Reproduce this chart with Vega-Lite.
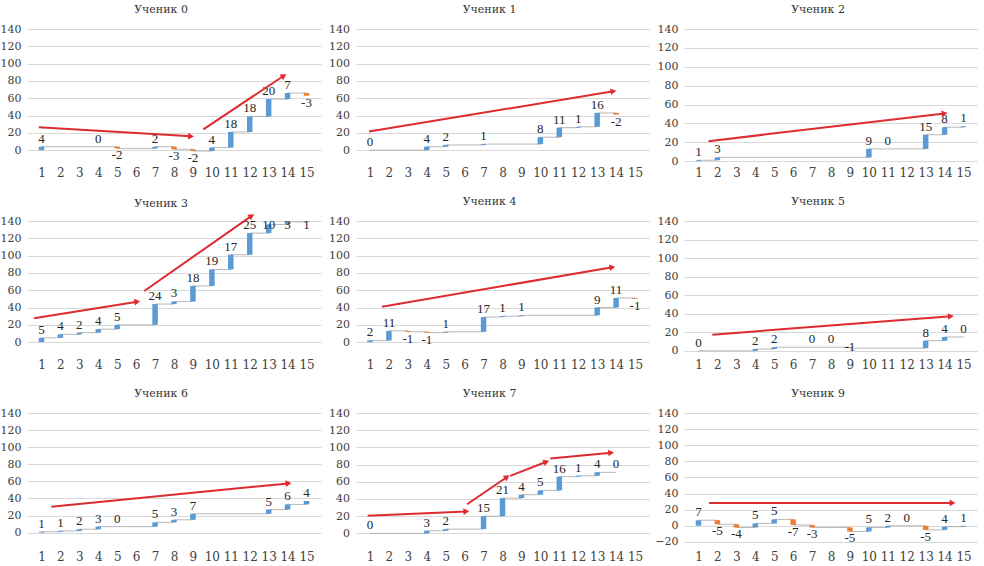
{
"$schema": "https://vega.github.io/schema/vega-lite/v6.json",
"background": "white",
"padding": {"left": 0, "top": 4, "right": 0, "bottom": 0},
"datasets": {
"steps": [
{"s":0,"step":1,"delta":4,"start":0,"end":4},
{"s":0,"step":4,"delta":0,"start":4,"end":4},
{"s":0,"step":5,"delta":-2,"start":4,"end":2},
{"s":0,"step":7,"delta":2,"start":2,"end":4},
{"s":0,"step":8,"delta":-3,"start":4,"end":1},
{"s":0,"step":9,"delta":-2,"start":1,"end":-1},
{"s":0,"step":10,"delta":4,"start":-1,"end":3},
{"s":0,"step":11,"delta":18,"start":3,"end":21},
{"s":0,"step":12,"delta":18,"start":21,"end":39},
{"s":0,"step":13,"delta":20,"start":39,"end":59},
{"s":0,"step":14,"delta":7,"start":59,"end":66},
{"s":0,"step":15,"delta":-3,"start":66,"end":63},
{"s":1,"step":1,"delta":0,"start":0,"end":0},
{"s":1,"step":4,"delta":4,"start":0,"end":4},
{"s":1,"step":5,"delta":2,"start":4,"end":6},
{"s":1,"step":7,"delta":1,"start":6,"end":7},
{"s":1,"step":10,"delta":8,"start":7,"end":15},
{"s":1,"step":11,"delta":11,"start":15,"end":26},
{"s":1,"step":12,"delta":1,"start":26,"end":27},
{"s":1,"step":13,"delta":16,"start":27,"end":43},
{"s":1,"step":14,"delta":-2,"start":43,"end":41},
{"s":2,"step":1,"delta":1,"start":0,"end":1},
{"s":2,"step":2,"delta":3,"start":1,"end":4},
{"s":2,"step":10,"delta":9,"start":4,"end":13},
{"s":2,"step":11,"delta":0,"start":13,"end":13},
{"s":2,"step":13,"delta":15,"start":13,"end":28},
{"s":2,"step":14,"delta":8,"start":28,"end":36},
{"s":2,"step":15,"delta":1,"start":36,"end":37},
{"s":3,"step":1,"delta":5,"start":0,"end":5},
{"s":3,"step":2,"delta":4,"start":5,"end":9},
{"s":3,"step":3,"delta":2,"start":9,"end":11},
{"s":3,"step":4,"delta":4,"start":11,"end":15},
{"s":3,"step":5,"delta":5,"start":15,"end":20},
{"s":3,"step":7,"delta":24,"start":20,"end":44},
{"s":3,"step":8,"delta":3,"start":44,"end":47},
{"s":3,"step":9,"delta":18,"start":47,"end":65},
{"s":3,"step":10,"delta":19,"start":65,"end":84},
{"s":3,"step":11,"delta":17,"start":84,"end":101},
{"s":3,"step":12,"delta":25,"start":101,"end":126},
{"s":3,"step":13,"delta":10,"start":126,"end":136},
{"s":3,"step":14,"delta":3,"start":136,"end":139},
{"s":3,"step":15,"delta":1,"start":139,"end":140},
{"s":4,"step":1,"delta":2,"start":0,"end":2},
{"s":4,"step":2,"delta":11,"start":2,"end":13},
{"s":4,"step":3,"delta":-1,"start":13,"end":12},
{"s":4,"step":4,"delta":-1,"start":12,"end":11},
{"s":4,"step":5,"delta":1,"start":11,"end":12},
{"s":4,"step":7,"delta":17,"start":12,"end":29},
{"s":4,"step":8,"delta":1,"start":29,"end":30},
{"s":4,"step":9,"delta":1,"start":30,"end":31},
{"s":4,"step":13,"delta":9,"start":31,"end":40},
{"s":4,"step":14,"delta":11,"start":40,"end":51},
{"s":4,"step":15,"delta":-1,"start":51,"end":50},
{"s":5,"step":1,"delta":0,"start":0,"end":0},
{"s":5,"step":4,"delta":2,"start":0,"end":2},
{"s":5,"step":5,"delta":2,"start":2,"end":4},
{"s":5,"step":7,"delta":0,"start":4,"end":4},
{"s":5,"step":8,"delta":0,"start":4,"end":4},
{"s":5,"step":9,"delta":-1,"start":4,"end":3},
{"s":5,"step":13,"delta":8,"start":3,"end":11},
{"s":5,"step":14,"delta":4,"start":11,"end":15},
{"s":5,"step":15,"delta":0,"start":15,"end":15},
{"s":6,"step":1,"delta":1,"start":0,"end":1},
{"s":6,"step":2,"delta":1,"start":1,"end":2},
{"s":6,"step":3,"delta":2,"start":2,"end":4},
{"s":6,"step":4,"delta":3,"start":4,"end":7},
{"s":6,"step":5,"delta":0,"start":7,"end":7},
{"s":6,"step":7,"delta":5,"start":7,"end":12},
{"s":6,"step":8,"delta":3,"start":12,"end":15},
{"s":6,"step":9,"delta":7,"start":15,"end":22},
{"s":6,"step":13,"delta":5,"start":22,"end":27},
{"s":6,"step":14,"delta":6,"start":27,"end":33},
{"s":6,"step":15,"delta":4,"start":33,"end":37},
{"s":7,"step":1,"delta":0,"start":0,"end":0},
{"s":7,"step":4,"delta":3,"start":0,"end":3},
{"s":7,"step":5,"delta":2,"start":3,"end":5},
{"s":7,"step":7,"delta":15,"start":5,"end":20},
{"s":7,"step":8,"delta":21,"start":20,"end":41},
{"s":7,"step":9,"delta":4,"start":41,"end":45},
{"s":7,"step":10,"delta":5,"start":45,"end":50},
{"s":7,"step":11,"delta":16,"start":50,"end":66},
{"s":7,"step":12,"delta":1,"start":66,"end":67},
{"s":7,"step":13,"delta":4,"start":67,"end":71},
{"s":7,"step":14,"delta":0,"start":71,"end":71},
{"s":9,"step":1,"delta":7,"start":0,"end":7},
{"s":9,"step":2,"delta":-5,"start":7,"end":2},
{"s":9,"step":3,"delta":-4,"start":2,"end":-2},
{"s":9,"step":4,"delta":5,"start":-2,"end":3},
{"s":9,"step":5,"delta":5,"start":3,"end":8},
{"s":9,"step":6,"delta":-7,"start":8,"end":1},
{"s":9,"step":7,"delta":-3,"start":1,"end":-2},
{"s":9,"step":9,"delta":-5,"start":-2,"end":-7},
{"s":9,"step":10,"delta":5,"start":-7,"end":-2},
{"s":9,"step":11,"delta":2,"start":-2,"end":0},
{"s":9,"step":12,"delta":0,"start":0,"end":0},
{"s":9,"step":13,"delta":-5,"start":0,"end":-5},
{"s":9,"step":14,"delta":4,"start":-5,"end":-1},
{"s":9,"step":15,"delta":1,"start":-1,"end":0}
],
"arrows": [
{"s":0,"x0":0.86,"y0":26.4,"x1":8.9,"y1":16,"angle":3.3},
{"s":0,"x0":9.55,"y0":24,"x1":13.8,"y1":86,"angle":-33},
{"s":1,"x0":0.95,"y0":21.5,"x1":13.86,"y1":68,"angle":-9.1},
{"s":2,"x0":1.53,"y0":21.2,"x1":14.0,"y1":50.6,"angle":-6.5},
{"s":3,"x0":0.61,"y0":27.6,"x1":6.06,"y1":46.7,"angle":-8.8},
{"s":3,"x0":6.43,"y0":59.1,"x1":12.1,"y1":146,"angle":-34.3},
{"s":4,"x0":1.63,"y0":41,"x1":13.8,"y1":86.5,"angle":-9.4},
{"s":5,"x0":1.73,"y0":17.5,"x1":14.33,"y1":37.3,"angle":-4.3},
{"s":6,"x0":1.52,"y0":30.2,"x1":14.05,"y1":57.6,"angle":-5.6},
{"s":7,"x0":0.88,"y0":20.5,"x1":6.09,"y1":25.5,"angle":-2.4},
{"s":7,"x0":6.13,"y0":33.9,"x1":8.24,"y1":65.6,"angle":-33.7},
{"s":7,"x0":8.41,"y0":66.8,"x1":10.32,"y1":83.3,"angle":-21},
{"s":7,"x0":10.52,"y0":87.2,"x1":13.74,"y1":93.75,"angle":-5.2},
{"s":9,"x0":1.56,"y0":28.4,"x1":14.42,"y1":28.4,"angle":0}
]
},
"columns": 3,
"bounds": "flush",
"spacing": {"row": 57, "column": 34.5},
"concat": [
{"title":"Ученик 0","width":294,"height":135,"layer":[
{"data":{"name":"steps"},"transform":[{"filter":"datum.s===0"}],"mark":{"type":"line","interpolate":"step-after","color":"#A6A6A6","strokeWidth":0.8},"encoding":{"x":{"field":"step","type":"quantitative","scale":{"domain":[0.5,15.5],"nice":false},"axis":{"values":[1,2,3,4,5,6,7,8,9,10,11,12,13,14,15],"tickCount":30,"format":"d","title":null,"labelOverlap":false}},"y":{"field":"end","type":"quantitative","scale":{"domain":[-16,140],"nice":false},"axis":{"values":[0,20,40,60,80,100,120,140],"tickCount":30,"format":"d","title":null,"labelOverlap":false}}}},
{"data":{"name":"steps"},"transform":[{"filter":"datum.s===0"}],"mark":{"type":"bar","size":5.5},"encoding":{"x":{"field":"step","type":"quantitative"},"y":{"field":"start","type":"quantitative"},"y2":{"field":"end"},"color":{"condition":{"test":"datum.delta<0","value":"#ED7D31"},"value":"#5B9BD5"}}},
{"data":{"name":"steps"},"transform":[{"filter":"datum.s===0 && datum.delta>=0"},{"calculate":"min(datum.end,126)","as":"labelAt"}],"mark":{"type":"text","baseline":"bottom","dy":-1,"font":"Liberation Serif","fontSize":13,"color":"#262626"},"encoding":{"x":{"field":"step","type":"quantitative"},"y":{"field":"labelAt","type":"quantitative"},"text":{"field":"delta","type":"nominal"}}},
{"data":{"name":"steps"},"transform":[{"filter":"datum.s===0 && datum.delta<0"}],"mark":{"type":"text","baseline":"top","dy":1,"font":"Liberation Serif","fontSize":13,"color":"#262626"},"encoding":{"x":{"field":"step","type":"quantitative"},"y":{"field":"end","type":"quantitative"},"text":{"field":"delta","type":"nominal"}}},
{"data":{"name":"arrows"},"transform":[{"filter":"datum.s===0"}],"mark":{"type":"rule","color":"#DE2B2F","strokeWidth":2},"encoding":{"x":{"field":"x0","type":"quantitative"},"y":{"field":"y0","type":"quantitative"},"x2":{"field":"x1"},"y2":{"field":"y1"}}},
{"data":{"name":"arrows"},"transform":[{"filter":"datum.s===0"}],"mark":{"type":"point","shape":"triangle-right","filled":true,"size":45,"color":"#DE2B2F","opacity":1},"encoding":{"x":{"field":"x1","type":"quantitative"},"y":{"field":"y1","type":"quantitative"},"angle":{"field":"angle","type":"quantitative","scale":null}}}
]},
{"title":"Ученик 1","width":294,"height":135,"layer":[
{"data":{"name":"steps"},"transform":[{"filter":"datum.s===1"}],"mark":{"type":"line","interpolate":"step-after","color":"#A6A6A6","strokeWidth":0.8},"encoding":{"x":{"field":"step","type":"quantitative","scale":{"domain":[0.5,15.5],"nice":false},"axis":{"values":[1,2,3,4,5,6,7,8,9,10,11,12,13,14,15],"tickCount":30,"format":"d","title":null,"labelOverlap":false}},"y":{"field":"end","type":"quantitative","scale":{"domain":[-16,140],"nice":false},"axis":{"values":[0,20,40,60,80,100,120,140],"tickCount":30,"format":"d","title":null,"labelOverlap":false}}}},
{"data":{"name":"steps"},"transform":[{"filter":"datum.s===1"}],"mark":{"type":"bar","size":5.5},"encoding":{"x":{"field":"step","type":"quantitative"},"y":{"field":"start","type":"quantitative"},"y2":{"field":"end"},"color":{"condition":{"test":"datum.delta<0","value":"#ED7D31"},"value":"#5B9BD5"}}},
{"data":{"name":"steps"},"transform":[{"filter":"datum.s===1 && datum.delta>=0"},{"calculate":"min(datum.end,126)","as":"labelAt"}],"mark":{"type":"text","baseline":"bottom","dy":-1,"font":"Liberation Serif","fontSize":13,"color":"#262626"},"encoding":{"x":{"field":"step","type":"quantitative"},"y":{"field":"labelAt","type":"quantitative"},"text":{"field":"delta","type":"nominal"}}},
{"data":{"name":"steps"},"transform":[{"filter":"datum.s===1 && datum.delta<0"}],"mark":{"type":"text","baseline":"top","dy":1,"font":"Liberation Serif","fontSize":13,"color":"#262626"},"encoding":{"x":{"field":"step","type":"quantitative"},"y":{"field":"end","type":"quantitative"},"text":{"field":"delta","type":"nominal"}}},
{"data":{"name":"arrows"},"transform":[{"filter":"datum.s===1"}],"mark":{"type":"rule","color":"#DE2B2F","strokeWidth":2},"encoding":{"x":{"field":"x0","type":"quantitative"},"y":{"field":"y0","type":"quantitative"},"x2":{"field":"x1"},"y2":{"field":"y1"}}},
{"data":{"name":"arrows"},"transform":[{"filter":"datum.s===1"}],"mark":{"type":"point","shape":"triangle-right","filled":true,"size":45,"color":"#DE2B2F","opacity":1},"encoding":{"x":{"field":"x1","type":"quantitative"},"y":{"field":"y1","type":"quantitative"},"angle":{"field":"angle","type":"quantitative","scale":null}}}
]},
{"title":"Ученик 2","width":294,"height":135,"layer":[
{"data":{"name":"steps"},"transform":[{"filter":"datum.s===2"}],"mark":{"type":"line","interpolate":"step-after","color":"#A6A6A6","strokeWidth":0.8},"encoding":{"x":{"field":"step","type":"quantitative","scale":{"domain":[0.5,15.5],"nice":false},"axis":{"values":[1,2,3,4,5,6,7,8,9,10,11,12,13,14,15],"tickCount":30,"format":"d","title":null,"labelOverlap":false}},"y":{"field":"end","type":"quantitative","scale":{"domain":[-3,140],"nice":false},"axis":{"values":[0,20,40,60,80,100,120,140],"tickCount":30,"format":"d","title":null,"labelOverlap":false}}}},
{"data":{"name":"steps"},"transform":[{"filter":"datum.s===2"}],"mark":{"type":"bar","size":5.5},"encoding":{"x":{"field":"step","type":"quantitative"},"y":{"field":"start","type":"quantitative"},"y2":{"field":"end"},"color":{"condition":{"test":"datum.delta<0","value":"#ED7D31"},"value":"#5B9BD5"}}},
{"data":{"name":"steps"},"transform":[{"filter":"datum.s===2 && datum.delta>=0"},{"calculate":"min(datum.end,126)","as":"labelAt"}],"mark":{"type":"text","baseline":"bottom","dy":-1,"font":"Liberation Serif","fontSize":13,"color":"#262626"},"encoding":{"x":{"field":"step","type":"quantitative"},"y":{"field":"labelAt","type":"quantitative"},"text":{"field":"delta","type":"nominal"}}},
{"data":{"name":"steps"},"transform":[{"filter":"datum.s===2 && datum.delta<0"}],"mark":{"type":"text","baseline":"top","dy":1,"font":"Liberation Serif","fontSize":13,"color":"#262626"},"encoding":{"x":{"field":"step","type":"quantitative"},"y":{"field":"end","type":"quantitative"},"text":{"field":"delta","type":"nominal"}}},
{"data":{"name":"arrows"},"transform":[{"filter":"datum.s===2"}],"mark":{"type":"rule","color":"#DE2B2F","strokeWidth":2},"encoding":{"x":{"field":"x0","type":"quantitative"},"y":{"field":"y0","type":"quantitative"},"x2":{"field":"x1"},"y2":{"field":"y1"}}},
{"data":{"name":"arrows"},"transform":[{"filter":"datum.s===2"}],"mark":{"type":"point","shape":"triangle-right","filled":true,"size":45,"color":"#DE2B2F","opacity":1},"encoding":{"x":{"field":"x1","type":"quantitative"},"y":{"field":"y1","type":"quantitative"},"angle":{"field":"angle","type":"quantitative","scale":null}}}
]},
{"title":{"text":"Ученик 3","dy":3},"width":294,"height":135,"layer":[
{"data":{"name":"steps"},"transform":[{"filter":"datum.s===3"}],"mark":{"type":"line","interpolate":"step-after","color":"#A6A6A6","strokeWidth":0.8},"encoding":{"x":{"field":"step","type":"quantitative","scale":{"domain":[0.5,15.5],"nice":false},"axis":{"values":[1,2,3,4,5,6,7,8,9,10,11,12,13,14,15],"tickCount":30,"format":"d","title":null,"labelOverlap":false}},"y":{"field":"end","type":"quantitative","scale":{"domain":[-16,140],"nice":false},"axis":{"values":[0,20,40,60,80,100,120,140],"tickCount":30,"format":"d","title":null,"labelOverlap":false}}}},
{"data":{"name":"steps"},"transform":[{"filter":"datum.s===3"}],"mark":{"type":"bar","size":5.5},"encoding":{"x":{"field":"step","type":"quantitative"},"y":{"field":"start","type":"quantitative"},"y2":{"field":"end"},"color":{"condition":{"test":"datum.delta<0","value":"#ED7D31"},"value":"#5B9BD5"}}},
{"data":{"name":"steps"},"transform":[{"filter":"datum.s===3 && datum.delta>=0"},{"calculate":"min(datum.end,126)","as":"labelAt"}],"mark":{"type":"text","baseline":"bottom","dy":-1,"font":"Liberation Serif","fontSize":13,"color":"#262626"},"encoding":{"x":{"field":"step","type":"quantitative"},"y":{"field":"labelAt","type":"quantitative"},"text":{"field":"delta","type":"nominal"}}},
{"data":{"name":"steps"},"transform":[{"filter":"datum.s===3 && datum.delta<0"}],"mark":{"type":"text","baseline":"top","dy":1,"font":"Liberation Serif","fontSize":13,"color":"#262626"},"encoding":{"x":{"field":"step","type":"quantitative"},"y":{"field":"end","type":"quantitative"},"text":{"field":"delta","type":"nominal"}}},
{"data":{"name":"arrows"},"transform":[{"filter":"datum.s===3"}],"mark":{"type":"rule","color":"#DE2B2F","strokeWidth":2},"encoding":{"x":{"field":"x0","type":"quantitative"},"y":{"field":"y0","type":"quantitative"},"x2":{"field":"x1"},"y2":{"field":"y1"}}},
{"data":{"name":"arrows"},"transform":[{"filter":"datum.s===3"}],"mark":{"type":"point","shape":"triangle-right","filled":true,"size":45,"color":"#DE2B2F","opacity":1},"encoding":{"x":{"field":"x1","type":"quantitative"},"y":{"field":"y1","type":"quantitative"},"angle":{"field":"angle","type":"quantitative","scale":null}}}
]},
{"title":"Ученик 4","width":294,"height":135,"layer":[
{"data":{"name":"steps"},"transform":[{"filter":"datum.s===4"}],"mark":{"type":"line","interpolate":"step-after","color":"#A6A6A6","strokeWidth":0.8},"encoding":{"x":{"field":"step","type":"quantitative","scale":{"domain":[0.5,15.5],"nice":false},"axis":{"values":[1,2,3,4,5,6,7,8,9,10,11,12,13,14,15],"tickCount":30,"format":"d","title":null,"labelOverlap":false}},"y":{"field":"end","type":"quantitative","scale":{"domain":[-16,140],"nice":false},"axis":{"values":[0,20,40,60,80,100,120,140],"tickCount":30,"format":"d","title":null,"labelOverlap":false}}}},
{"data":{"name":"steps"},"transform":[{"filter":"datum.s===4"}],"mark":{"type":"bar","size":5.5},"encoding":{"x":{"field":"step","type":"quantitative"},"y":{"field":"start","type":"quantitative"},"y2":{"field":"end"},"color":{"condition":{"test":"datum.delta<0","value":"#ED7D31"},"value":"#5B9BD5"}}},
{"data":{"name":"steps"},"transform":[{"filter":"datum.s===4 && datum.delta>=0"},{"calculate":"min(datum.end,126)","as":"labelAt"}],"mark":{"type":"text","baseline":"bottom","dy":-1,"font":"Liberation Serif","fontSize":13,"color":"#262626"},"encoding":{"x":{"field":"step","type":"quantitative"},"y":{"field":"labelAt","type":"quantitative"},"text":{"field":"delta","type":"nominal"}}},
{"data":{"name":"steps"},"transform":[{"filter":"datum.s===4 && datum.delta<0"}],"mark":{"type":"text","baseline":"top","dy":1,"font":"Liberation Serif","fontSize":13,"color":"#262626"},"encoding":{"x":{"field":"step","type":"quantitative"},"y":{"field":"end","type":"quantitative"},"text":{"field":"delta","type":"nominal"}}},
{"data":{"name":"arrows"},"transform":[{"filter":"datum.s===4"}],"mark":{"type":"rule","color":"#DE2B2F","strokeWidth":2},"encoding":{"x":{"field":"x0","type":"quantitative"},"y":{"field":"y0","type":"quantitative"},"x2":{"field":"x1"},"y2":{"field":"y1"}}},
{"data":{"name":"arrows"},"transform":[{"filter":"datum.s===4"}],"mark":{"type":"point","shape":"triangle-right","filled":true,"size":45,"color":"#DE2B2F","opacity":1},"encoding":{"x":{"field":"x1","type":"quantitative"},"y":{"field":"y1","type":"quantitative"},"angle":{"field":"angle","type":"quantitative","scale":null}}}
]},
{"title":"Ученик 5","width":294,"height":135,"layer":[
{"data":{"name":"steps"},"transform":[{"filter":"datum.s===5"}],"mark":{"type":"line","interpolate":"step-after","color":"#A6A6A6","strokeWidth":0.8},"encoding":{"x":{"field":"step","type":"quantitative","scale":{"domain":[0.5,15.5],"nice":false},"axis":{"values":[1,2,3,4,5,6,7,8,9,10,11,12,13,14,15],"tickCount":30,"format":"d","title":null,"labelOverlap":false}},"y":{"field":"end","type":"quantitative","scale":{"domain":[-5.5,140],"nice":false},"axis":{"values":[0,20,40,60,80,100,120,140],"tickCount":30,"format":"d","title":null,"labelOverlap":false}}}},
{"data":{"name":"steps"},"transform":[{"filter":"datum.s===5"}],"mark":{"type":"bar","size":5.5},"encoding":{"x":{"field":"step","type":"quantitative"},"y":{"field":"start","type":"quantitative"},"y2":{"field":"end"},"color":{"condition":{"test":"datum.delta<0","value":"#ED7D31"},"value":"#5B9BD5"}}},
{"data":{"name":"steps"},"transform":[{"filter":"datum.s===5 && datum.delta>=0"},{"calculate":"min(datum.end,126)","as":"labelAt"}],"mark":{"type":"text","baseline":"bottom","dy":-1,"font":"Liberation Serif","fontSize":13,"color":"#262626"},"encoding":{"x":{"field":"step","type":"quantitative"},"y":{"field":"labelAt","type":"quantitative"},"text":{"field":"delta","type":"nominal"}}},
{"data":{"name":"steps"},"transform":[{"filter":"datum.s===5 && datum.delta<0"}],"mark":{"type":"text","baseline":"middle","dy":-1,"font":"Liberation Serif","fontSize":13,"color":"#262626"},"encoding":{"x":{"field":"step","type":"quantitative"},"y":{"field":"end","type":"quantitative"},"text":{"field":"delta","type":"nominal"}}},
{"data":{"name":"arrows"},"transform":[{"filter":"datum.s===5"}],"mark":{"type":"rule","color":"#DE2B2F","strokeWidth":2},"encoding":{"x":{"field":"x0","type":"quantitative"},"y":{"field":"y0","type":"quantitative"},"x2":{"field":"x1"},"y2":{"field":"y1"}}},
{"data":{"name":"arrows"},"transform":[{"filter":"datum.s===5"}],"mark":{"type":"point","shape":"triangle-right","filled":true,"size":45,"color":"#DE2B2F","opacity":1},"encoding":{"x":{"field":"x1","type":"quantitative"},"y":{"field":"y1","type":"quantitative"},"angle":{"field":"angle","type":"quantitative","scale":null}}}
]},
{"title":"Ученик 6","width":294,"height":135,"layer":[
{"data":{"name":"steps"},"transform":[{"filter":"datum.s===6"}],"mark":{"type":"line","interpolate":"step-after","color":"#A6A6A6","strokeWidth":0.8},"encoding":{"x":{"field":"step","type":"quantitative","scale":{"domain":[0.5,15.5],"nice":false},"axis":{"values":[1,2,3,4,5,6,7,8,9,10,11,12,13,14,15],"tickCount":30,"format":"d","title":null,"labelOverlap":false}},"y":{"field":"end","type":"quantitative","scale":{"domain":[-18,140],"nice":false},"axis":{"values":[0,20,40,60,80,100,120,140],"tickCount":30,"format":"d","title":null,"labelOverlap":false}}}},
{"data":{"name":"steps"},"transform":[{"filter":"datum.s===6"}],"mark":{"type":"bar","size":5.5},"encoding":{"x":{"field":"step","type":"quantitative"},"y":{"field":"start","type":"quantitative"},"y2":{"field":"end"},"color":{"condition":{"test":"datum.delta<0","value":"#ED7D31"},"value":"#5B9BD5"}}},
{"data":{"name":"steps"},"transform":[{"filter":"datum.s===6 && datum.delta>=0"},{"calculate":"min(datum.end,126)","as":"labelAt"}],"mark":{"type":"text","baseline":"bottom","dy":-1,"font":"Liberation Serif","fontSize":13,"color":"#262626"},"encoding":{"x":{"field":"step","type":"quantitative"},"y":{"field":"labelAt","type":"quantitative"},"text":{"field":"delta","type":"nominal"}}},
{"data":{"name":"steps"},"transform":[{"filter":"datum.s===6 && datum.delta<0"}],"mark":{"type":"text","baseline":"top","dy":1,"font":"Liberation Serif","fontSize":13,"color":"#262626"},"encoding":{"x":{"field":"step","type":"quantitative"},"y":{"field":"end","type":"quantitative"},"text":{"field":"delta","type":"nominal"}}},
{"data":{"name":"arrows"},"transform":[{"filter":"datum.s===6"}],"mark":{"type":"rule","color":"#DE2B2F","strokeWidth":2},"encoding":{"x":{"field":"x0","type":"quantitative"},"y":{"field":"y0","type":"quantitative"},"x2":{"field":"x1"},"y2":{"field":"y1"}}},
{"data":{"name":"arrows"},"transform":[{"filter":"datum.s===6"}],"mark":{"type":"point","shape":"triangle-right","filled":true,"size":45,"color":"#DE2B2F","opacity":1},"encoding":{"x":{"field":"x1","type":"quantitative"},"y":{"field":"y1","type":"quantitative"},"angle":{"field":"angle","type":"quantitative","scale":null}}}
]},
{"title":"Ученик 7","width":294,"height":135,"layer":[
{"data":{"name":"steps"},"transform":[{"filter":"datum.s===7"}],"mark":{"type":"line","interpolate":"step-after","color":"#A6A6A6","strokeWidth":0.8},"encoding":{"x":{"field":"step","type":"quantitative","scale":{"domain":[0.5,15.5],"nice":false},"axis":{"values":[1,2,3,4,5,6,7,8,9,10,11,12,13,14,15],"tickCount":30,"format":"d","title":null,"labelOverlap":false}},"y":{"field":"end","type":"quantitative","scale":{"domain":[-17,140],"nice":false},"axis":{"values":[0,20,40,60,80,100,120,140],"tickCount":30,"format":"d","title":null,"labelOverlap":false}}}},
{"data":{"name":"steps"},"transform":[{"filter":"datum.s===7"}],"mark":{"type":"bar","size":5.5},"encoding":{"x":{"field":"step","type":"quantitative"},"y":{"field":"start","type":"quantitative"},"y2":{"field":"end"},"color":{"condition":{"test":"datum.delta<0","value":"#ED7D31"},"value":"#5B9BD5"}}},
{"data":{"name":"steps"},"transform":[{"filter":"datum.s===7 && datum.delta>=0"},{"calculate":"min(datum.end,126)","as":"labelAt"}],"mark":{"type":"text","baseline":"bottom","dy":-1,"font":"Liberation Serif","fontSize":13,"color":"#262626"},"encoding":{"x":{"field":"step","type":"quantitative"},"y":{"field":"labelAt","type":"quantitative"},"text":{"field":"delta","type":"nominal"}}},
{"data":{"name":"steps"},"transform":[{"filter":"datum.s===7 && datum.delta<0"}],"mark":{"type":"text","baseline":"top","dy":1,"font":"Liberation Serif","fontSize":13,"color":"#262626"},"encoding":{"x":{"field":"step","type":"quantitative"},"y":{"field":"end","type":"quantitative"},"text":{"field":"delta","type":"nominal"}}},
{"data":{"name":"arrows"},"transform":[{"filter":"datum.s===7"}],"mark":{"type":"rule","color":"#DE2B2F","strokeWidth":2},"encoding":{"x":{"field":"x0","type":"quantitative"},"y":{"field":"y0","type":"quantitative"},"x2":{"field":"x1"},"y2":{"field":"y1"}}},
{"data":{"name":"arrows"},"transform":[{"filter":"datum.s===7"}],"mark":{"type":"point","shape":"triangle-right","filled":true,"size":45,"color":"#DE2B2F","opacity":1},"encoding":{"x":{"field":"x1","type":"quantitative"},"y":{"field":"y1","type":"quantitative"},"angle":{"field":"angle","type":"quantitative","scale":null}}}
]},
{"title":"Ученик 9","width":294,"height":135,"layer":[
{"data":{"name":"steps"},"transform":[{"filter":"datum.s===9"}],"mark":{"type":"line","interpolate":"step-after","color":"#A6A6A6","strokeWidth":0.8},"encoding":{"x":{"field":"step","type":"quantitative","scale":{"domain":[0.5,15.5],"nice":false},"axis":{"values":[1,2,3,4,5,6,7,8,9,10,11,12,13,14,15],"tickCount":30,"format":"d","title":null,"labelOverlap":false}},"y":{"field":"end","type":"quantitative","scale":{"domain":[-27.5,140],"nice":false},"axis":{"values":[-20,0,20,40,60,80,100,120,140],"tickCount":30,"format":"d","title":null,"labelOverlap":false}}}},
{"data":{"name":"steps"},"transform":[{"filter":"datum.s===9"}],"mark":{"type":"bar","size":5.5},"encoding":{"x":{"field":"step","type":"quantitative"},"y":{"field":"start","type":"quantitative"},"y2":{"field":"end"},"color":{"condition":{"test":"datum.delta<0","value":"#ED7D31"},"value":"#5B9BD5"}}},
{"data":{"name":"steps"},"transform":[{"filter":"datum.s===9 && datum.delta>=0"},{"calculate":"min(datum.end,126)","as":"labelAt"}],"mark":{"type":"text","baseline":"bottom","dy":-1,"font":"Liberation Serif","fontSize":13,"color":"#262626"},"encoding":{"x":{"field":"step","type":"quantitative"},"y":{"field":"labelAt","type":"quantitative"},"text":{"field":"delta","type":"nominal"}}},
{"data":{"name":"steps"},"transform":[{"filter":"datum.s===9 && datum.delta<0"}],"mark":{"type":"text","baseline":"top","dy":1,"font":"Liberation Serif","fontSize":13,"color":"#262626"},"encoding":{"x":{"field":"step","type":"quantitative"},"y":{"field":"end","type":"quantitative"},"text":{"field":"delta","type":"nominal"}}},
{"data":{"name":"arrows"},"transform":[{"filter":"datum.s===9"}],"mark":{"type":"rule","color":"#DE2B2F","strokeWidth":2},"encoding":{"x":{"field":"x0","type":"quantitative"},"y":{"field":"y0","type":"quantitative"},"x2":{"field":"x1"},"y2":{"field":"y1"}}},
{"data":{"name":"arrows"},"transform":[{"filter":"datum.s===9"}],"mark":{"type":"point","shape":"triangle-right","filled":true,"size":45,"color":"#DE2B2F","opacity":1},"encoding":{"x":{"field":"x1","type":"quantitative"},"y":{"field":"y1","type":"quantitative"},"angle":{"field":"angle","type":"quantitative","scale":null}}}
]}
],
"config": {
"view": {"stroke": null},
"font": "DejaVu Serif",
"axis": {"domain": false, "ticks": false, "labelFont": "DejaVu Serif", "labelColor": "#404040", "labelFontSize": 11, "labelOverlap": false},
"axisX": {"grid": false, "labelFontSize": 12, "labelPadding": 3, "labelAngle": 0, "labelFlush": false},
"axisY": {"grid": true, "gridColor": "#D9D9D9", "gridWidth": 1, "labelPadding": 6},
"title": {"font": "DejaVu Serif", "fontSize": 11, "fontWeight": "normal", "color": "#333333", "offset": 8, "frame": "group", "dx": -13}
}
}
